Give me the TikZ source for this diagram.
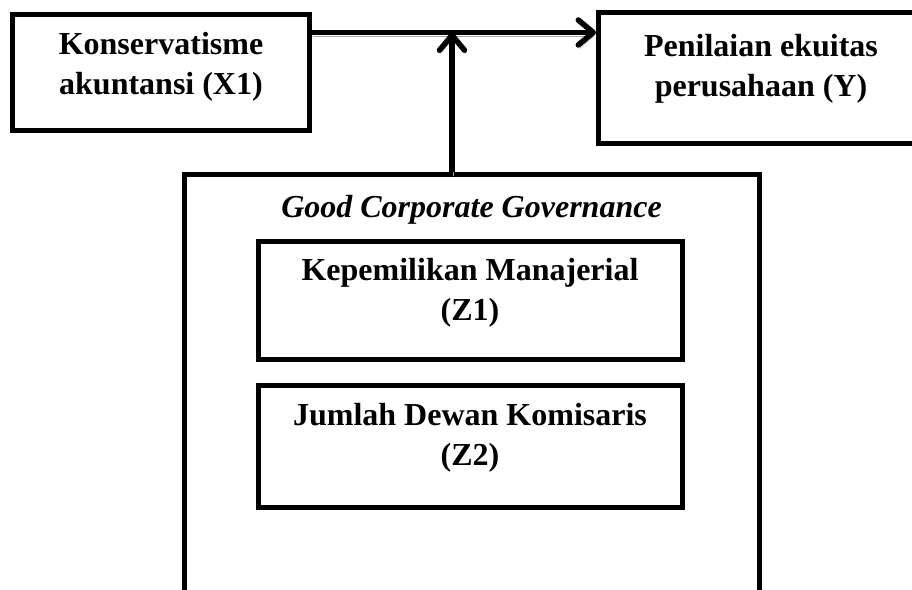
\documentclass[tikz,border=0pt]{standalone}
\usepackage{fontspec}
\setmainfont{Liberation Serif}
\usetikzlibrary{arrows.meta}

\newcommand{\twoline}[2]{\begin{tabular}[t]{@{}c@{}}#1\\#2\end{tabular}}

\tikzset{
varbox/.style={draw, line width=5pt, inner sep=0pt, text height=0pt,
  font=\bfseries\fontsize{32}{40}\selectfont},
link/.style={line width=5.5pt,
  -{Straight Barb[length=15pt,width=25pt,round]},
  preaction={draw=black!35, transform canvas={shift={(1,3.5)}}}}
}

\begin{document}
\begin{tikzpicture}[x=1pt,y=-1pt]

\clip (0,0) rectangle (912,589);

% Variabel X dan Y
\node[varbox, minimum width=297pt, minimum height=116pt, text depth=37pt]
(x1) at (161,72.5) {\twoline{Konservatisme}{akuntansi (X1)}};

\node[varbox, minimum width=325pt, minimum height=130.5pt, text depth=43pt]
(y) at (761,77.75) {\twoline{Penilaian ekuitas}{perusahaan (Y)}};

% Moderasi
\node[draw, line width=5pt, minimum width=575pt, minimum height=500pt]
(gcg) at (471.5,424.5) {};

\node[anchor=base, inner sep=0pt, font=\bfseries\itshape\fontsize{32}{40}\selectfont]
(gcgtitle) at (471.5,217) {Good Corporate Governance};

\node[varbox, minimum width=424pt, minimum height=118pt, text depth=40pt]
(z1) at (470,300) {\twoline{Kepemilikan Manajerial}{(Z1)}};

\node[varbox, minimum width=424pt, minimum height=122pt, text depth=43pt]
(z2) at (470,446.5) {\twoline{Jumlah Dewan Komisaris}{(Z2)}};

% Panah
\coordinate (hub) at (452,32.5);
\draw[link] (x1.east |- hub) -- (y.west |- hub);
\draw[link] (gcg.north -| hub) -- (hub);

\end{tikzpicture}
\end{document}
